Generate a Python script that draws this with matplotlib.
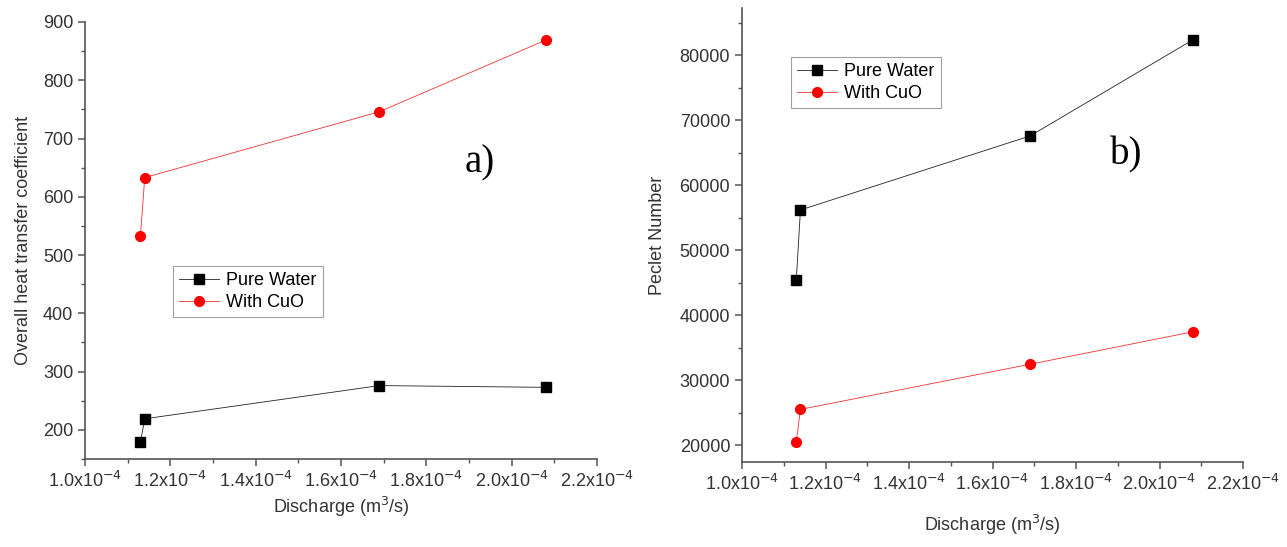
import matplotlib.pyplot as plt
from matplotlib.ticker import MultipleLocator, FuncFormatter

plt.rcParams['font.family'] = ['Liberation Sans', 'DejaVu Sans']

discharge = [1.13e-4, 1.14e-4, 1.69e-4, 2.08e-4]
u_water = [179, 219, 276, 273]
u_cuo = [533, 633, 746, 869]
pe_water = [45400, 56200, 67600, 82400]
pe_cuo = [20500, 25500, 32450, 37450]

labels = ['Pure Water', 'With CuO']
AXIS_GRAY = '#555555'
TXT = '#333333'


def fmt_x(v, pos):
    return r'%.1fx10$^{-4}$' % (v * 1e4)


def style_axes(ax, ymajor, yminor, xpad):
    for s in ['top', 'right']:
        ax.spines[s].set_visible(False)
    for s in ['left', 'bottom']:
        ax.spines[s].set_color(AXIS_GRAY)
        ax.spines[s].set_linewidth(1.2)
    ax.set_xlim(1.0e-4, 2.2e-4)
    ax.xaxis.set_major_locator(MultipleLocator(0.2e-4))
    ax.xaxis.set_minor_locator(MultipleLocator(0.1e-4))
    ax.xaxis.set_major_formatter(FuncFormatter(fmt_x))
    ax.yaxis.set_major_locator(MultipleLocator(ymajor))
    ax.yaxis.set_minor_locator(MultipleLocator(yminor))
    ax.tick_params(which='major', direction='out', length=5, width=1.1,
                   color=AXIS_GRAY, labelsize=13, labelcolor=TXT)
    ax.tick_params(which='minor', direction='out', length=3, width=1.0,
                   color=AXIS_GRAY)
    ax.set_xlabel('Discharge (m$^3$/s)', fontsize=13, color=TXT, labelpad=xpad)


def draw(ax, y_water, y_cuo):
    ax.plot(discharge, y_water, color='#222222', lw=0.6, marker='s', ms=6.5,
            mfc='black', mec='black', label=labels[0])
    ax.plot(discharge, y_cuo, color='#ee3333', lw=0.6, marker='o', ms=7,
            mfc='#ff0000', mec='#ff0000', label=labels[1])


def add_legend(ax, x, y):
    leg = ax.legend(loc='upper left', bbox_to_anchor=(x / W, 1 - y / H),
                    bbox_transform=fig.transFigure, fontsize=13, frameon=True,
                    fancybox=False, edgecolor='#888888', handlelength=2.2,
                    borderpad=0.35, labelspacing=0.25, handletextpad=0.4,
                    borderaxespad=0)
    leg.get_frame().set_linewidth(0.8)


fig = plt.figure(figsize=(12.87, 5.47), dpi=100)
W, H = 1287.0, 547.0

ax1 = fig.add_axes([85 / W, 1 - 459 / H, (597 - 85) / W, (459 - 22) / H])
draw(ax1, u_water, u_cuo)
style_axes(ax1, 100, 50, 3)
ax1.set_ylim(150, 900)
ax1.set_ylabel('Overall heat transfer coefficient', fontsize=13, color=TXT,
               labelpad=8)
ax1.text(1.925e-4, 658, 'a)', family='Liberation Serif', fontsize=28,
         ha='center', va='center')
add_legend(ax1, 173, 266)

ax2 = fig.add_axes([742 / W, 1 - 462 / H, (1243 - 742) / W, (462 - 8) / H])
draw(ax2, pe_water, pe_cuo)
style_axes(ax2, 10000, 5000, 14)
ax2.set_ylim(17400, 87300)
ax2.set_ylabel('Peclet Number', fontsize=13, color=TXT, labelpad=10)
ax2.text(1.92e-4, 64650, 'b)', family='Liberation Serif', fontsize=28,
         ha='center', va='center')
add_legend(ax2, 791, 57)

fig.savefig('out.png', dpi=100)
